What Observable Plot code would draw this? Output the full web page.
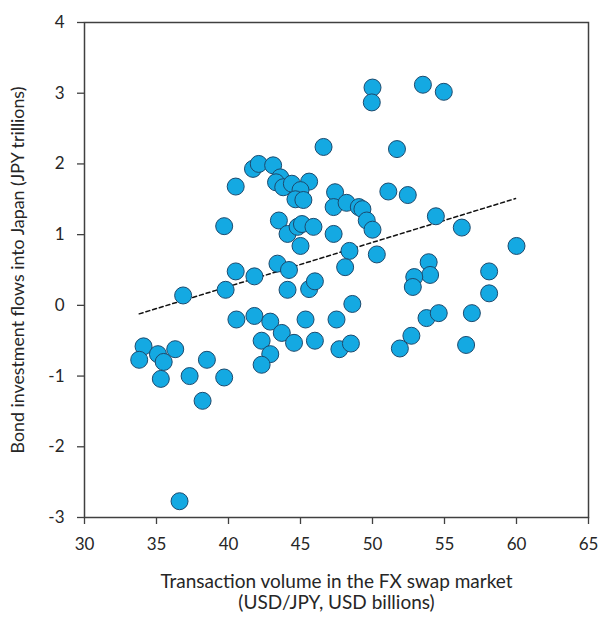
<!DOCTYPE html>
<html>
<head>
<meta charset="utf-8">
<script src="https://cdn.jsdelivr.net/npm/d3@7"></script>
<script src="https://cdn.jsdelivr.net/npm/@observablehq/plot@0.6"></script>
<style>
  body { margin: 0; background: #fff; }
  #chart svg { font-family: Lato, "Open Sans", sans-serif; }
</style>
</head>
<body>
<div id="chart"></div>
<script>
// FX swap turnover (USD/JPY, USD bn) vs. bond investment flows into Japan (JPY tn)
const swapVolume = [
  46.6, 50.0, 49.95, 53.5, 54.95, 51.7, 51.1, 52.45, 47.4, 47.3,
  48.2, 49.05, 49.3, 49.6, 50.0, 54.4, 56.2, 60.0, 47.3, 48.4,
  48.1, 50.3, 53.9, 54.0, 52.9, 52.8, 58.1, 58.1, 48.6, 47.5,
  47.7, 48.5, 51.9, 52.7, 53.75, 54.6, 56.9, 56.5, 36.85, 39.8,
  41.8, 44.1, 45.6, 46.0, 40.55, 41.8, 42.9, 45.35, 42.3, 43.7,
  44.55, 46.0, 42.9, 42.3, 34.1, 33.8, 35.1, 35.5, 36.3, 35.3,
  37.3, 38.5, 39.7, 38.2, 36.6, 41.7, 42.1, 43.1, 40.5, 43.6,
  43.3, 43.8, 44.4, 45.6, 45.0, 44.65, 45.2, 39.7, 43.5, 44.1,
  44.8, 45.1, 45.9, 45.0, 43.4, 44.2, 40.5
];
const bondFlows = [
  2.24, 3.08, 2.87, 3.12, 3.02, 2.21, 1.61, 1.56, 1.60, 1.39,
  1.45, 1.39, 1.36, 1.20, 1.07, 1.26, 1.10, 0.84, 1.01, 0.77,
  0.54, 0.72, 0.61, 0.43, 0.40, 0.26, 0.48, 0.17, 0.02, -0.20,
  -0.62, -0.54, -0.61, -0.43, -0.18, -0.11, -0.11, -0.56, 0.14, 0.22,
  0.41, 0.22, 0.23, 0.34, -0.20, -0.15, -0.23, -0.20, -0.50, -0.39,
  -0.53, -0.50, -0.69, -0.84, -0.58, -0.77, -0.69, -0.80, -0.62, -1.04,
  -1.00, -0.77, -1.02, -1.35, -2.77, 1.93, 2.00, 1.98, 1.68, 1.81,
  1.74, 1.67, 1.72, 1.75, 1.63, 1.50, 1.49, 1.12, 1.20, 1.01,
  1.11, 1.15, 1.11, 0.84, 0.59, 0.50, 0.48
];

// Fitted linear trend, given at its two ends
const trendX = [33.8, 59.93];
const trendY = [-0.12, 1.51];

const xTicks = [30, 35, 40, 45, 50, 55, 60, 65];
const yTicks = [-3, -2, -1, 0, 1, 2, 3, 4];

const xTitle = ["Transaction volume in the FX swap market", "(USD/JPY, USD billions)"];
const yTitle = "Bond investment flows into Japan (JPY trillions)";

const points = swapVolume.map((x, i) => ({x, y: bondFlows[i]}));
const trend = trendX.map((x, i) => ({x, y: trendY[i]}));

const axisColor = "#404040";
const textColor = "#262626";
const plainNumber = d => String(d);

const chart = Plot.plot({
  width: 602,
  height: 619,
  marginLeft: 84,
  marginRight: 14,
  marginTop: 22,
  marginBottom: 102,
  x: {domain: [30, 65]},
  y: {domain: [-3, 4]},
  style: {fontSize: "16px", color: textColor, background: "#fff"},
  marks: [
    Plot.axisX({ticks: xTicks, tickFormat: plainNumber, tickSize: 7, tickPadding: 13, stroke: axisColor, strokeWidth: 1.3, label: null, fill: textColor, fontSize: 17}),
    Plot.axisY({ticks: yTicks, tickFormat: plainNumber, tickSize: 7, tickPadding: 13, stroke: axisColor, strokeWidth: 1.3, label: null, fill: textColor, fontSize: 17}),
    Plot.frame({stroke: axisColor, strokeWidth: 1.5}),
    Plot.line(trend, {x: "x", y: "y", stroke: "#111", strokeWidth: 1.5, strokeDasharray: "4,3"}),
    Plot.dot(points, {x: "x", y: "y", r: 8.5, fill: "#14A9E2", stroke: "#1C4A6E", strokeWidth: 1}),
    Plot.text([xTitle[0]], {text: d => d, frameAnchor: "bottom", dy: 70, fontSize: 19, fill: textColor}),
    Plot.text([xTitle[1]], {text: d => d, frameAnchor: "bottom", dy: 91, fontSize: 19, fill: textColor}),
    Plot.text([yTitle], {text: d => d, frameAnchor: "left", textAnchor: "middle", dx: -66, rotate: -90, fontSize: 17.8, fill: textColor})
  ]
});

document.getElementById("chart").appendChild(chart);
</script>
</body>
</html>
